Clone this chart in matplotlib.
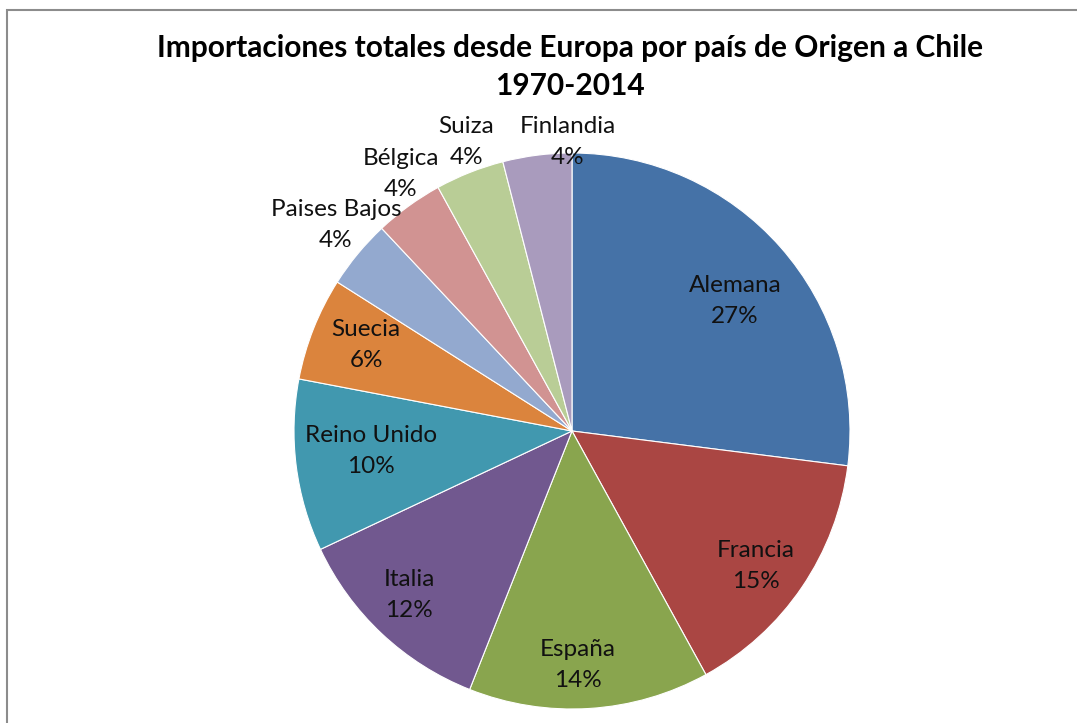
import matplotlib.pyplot as plt
from matplotlib.patches import Rectangle
import numpy as np

plt.rcParams['font.family'] = ['Lato', 'DejaVu Sans']

# import share by country of origin (%)
paises = ['Alemana', 'Francia', 'España', 'Italia', 'Reino Unido', 'Suecia',
          'Paises Bajos', 'Bélgica', 'Suiza', 'Finlandia']
porcentajes = [27, 15, 14, 12, 10, 6, 4, 4, 4, 4]

colores = ['#4572A7', '#AA4643', '#89A54E', '#71588F', '#4198AF',
           '#DB843D', '#93A9CF', '#D19392', '#B9CD96', '#A99BBD']

# label placement: distance from centre (radius units) and angle nudge (deg)
dist_etiqueta = [0.750, 0.820, 0.842, 0.832, 0.727, 0.803, 1.127, 1.111, 1.108, 1.041]
giro_etiqueta = [-2.8, -2.2, -2.25, -1.6, -1.5, -1.1, -1.5, -2.3, -1.5, -6.3]

W, H = 1077, 723
fig = plt.figure(figsize=(W / 100, H / 100), dpi=100)

# chart area border
fig.patches.append(Rectangle((6.5 / W, -0.1), 1.2, 1 - 10.5 / H + 0.1,
                             transform=fig.transFigure, fill=False,
                             edgecolor='#8c8c8c', linewidth=1.5))

cx, cy, r = 572, 431, 278
ax = fig.add_axes([(cx - r) / W, (H - cy - r) / H, 2 * r / W, 2 * r / H])
wedges, _ = ax.pie(porcentajes, colors=colores, startangle=90, counterclock=False,
                   radius=1, wedgeprops=dict(linewidth=0.8, edgecolor='white'))
ax.set_xlim(-1, 1)
ax.set_ylim(-1, 1)
ax.set_aspect('equal')
ax.axis('off')

for w, nombre, p, d, g in zip(wedges, paises, porcentajes, dist_etiqueta, giro_etiqueta):
    ang = np.deg2rad((w.theta1 + w.theta2) / 2 + g)
    ax.text(d * np.cos(ang), d * np.sin(ang), f'{nombre}\n{p}%',
            ha='center', va='center', fontsize=17.5, color='#111111',
            linespacing=1.58, clip_on=False)

fig.text(570 / W, 1 - 67 / H,
         'Importaciones totales desde Europa por país de Origen a Chile\n1970-2014',
         ha='center', va='center', fontsize=21.5, fontweight='bold',
         linespacing=1.42)

fig.savefig('out.png', dpi=100)
